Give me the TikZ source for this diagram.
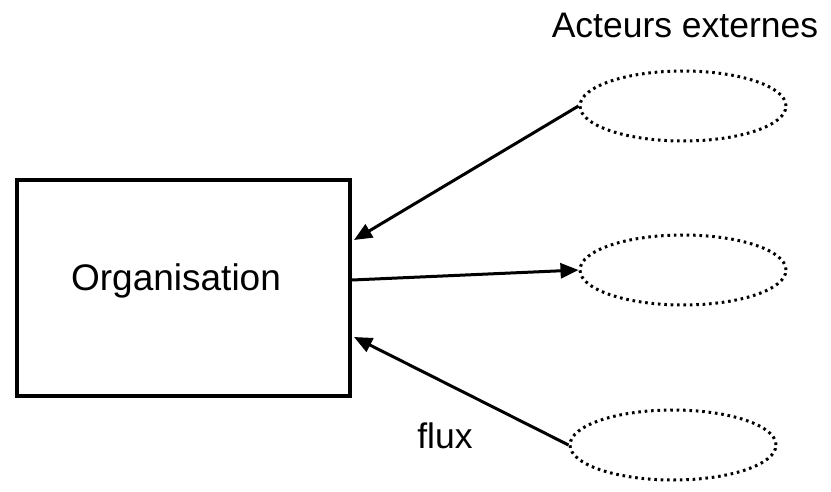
\documentclass[tikz,border=0pt]{standalone}
\usepackage{fontspec}
\setmainfont{Liberation Sans}
\usetikzlibrary{shapes.geometric,arrows.meta}
\begin{document}
\begin{tikzpicture}[x=1pt,y=-1pt,
  orgbox/.style={draw,line width=4.2pt,minimum width=333pt,minimum height=216pt,inner sep=0pt},
  actor/.style={draw,ellipse,line width=3pt,dash pattern=on 2.6pt off 3.8pt,minimum width=206pt,minimum height=70pt,inner sep=0pt},
  label/.style={font=\fontsize{35.5}{40}\selectfont,inner sep=0pt},
  flow/.style={line width=3pt,-{Triangle[length=18pt,width=15pt]}}]
\useasboundingbox (0,0) rectangle (831,491);
\node[orgbox] (org) at (183.5,288) {};
\node[label,font=\fontsize{37}{40}\selectfont] (orgt) at (176,281) {Organisation};
\node[actor] (a1) at (683,106) {};
\node[actor] (a2) at (683,270) {};
\node[actor] (a3) at (673,445) {};
\node[label,anchor=base] (title) at (685,37) {Acteurs externes};
\node[label,anchor=base] (flux) at (445,448) {flux};
\coordinate (t1) at (354,240);
\coordinate (s2) at (352,280);
\coordinate (t3) at (354,337);
\draw[flow] (a1.west) -- (t1);
\draw[flow] (s2) -- (a2.west);
\draw[flow] (a3.west) -- (t3);
\end{tikzpicture}
\end{document}
